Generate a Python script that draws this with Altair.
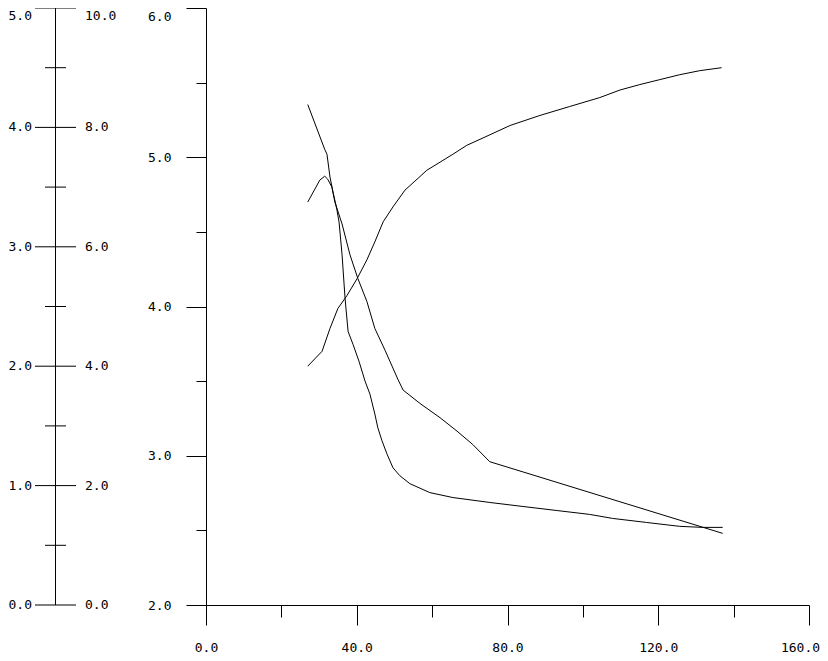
import altair as alt
import pandas as pd

# ---- data ----
S_x = [27.0, 31.5, 32.1, 32.9, 33.7, 34.7, 35.3, 36.1, 36.9, 37.7, 39.0, 40.6, 42.2, 43.5, 44.8,
       45.6, 46.7, 48.0, 49.6, 51.4, 54.1, 59.4, 65.5, 75.3, 84.1, 93.1, 101.8, 107.9, 116.9,
       125.7, 131.8, 137.1]
S_y = [5.353, 5.053, 5.02, 4.867, 4.767, 4.653, 4.567, 4.347, 4.053, 3.833, 3.747, 3.633, 3.5,
       3.413, 3.28, 3.187, 3.1, 3.013, 2.92, 2.867, 2.813, 2.753, 2.72, 2.687, 2.66, 2.633, 2.607,
       2.58, 2.553, 2.527, 2.52, 2.52]

K_x = [27.0, 28.9, 30.2, 31.5, 32.3, 33.4, 34.2, 36.1, 38.2, 40.3, 42.7, 44.8, 47.5, 50.9,
       52.3, 56.8, 62.1, 66.6, 70.8, 75.3, 137.1]
K_y = [4.7, 4.787, 4.847, 4.873, 4.853, 4.8, 4.7, 4.553, 4.347, 4.187, 4.033, 3.853, 3.707,
       3.513, 3.44, 3.35, 3.255, 3.165, 3.075, 2.96, 2.48]

R_x = [27.0, 30.8, 32.9, 35.0, 37.4, 40.1, 42.7, 44.8, 47.0, 49.6, 52.8, 56.0, 58.6, 62.1, 65.5,
       69.2, 72.7, 80.7, 88.6, 96.5, 104.5, 109.8, 115.1, 120.4, 125.7, 131.0, 136.8]
R_y = [3.6, 3.7, 3.853, 3.987, 4.073, 4.187, 4.313, 4.433, 4.567, 4.667, 4.78, 4.853, 4.913, 4.967,
       5.02, 5.08, 5.12, 5.213, 5.28, 5.34, 5.4, 5.45, 5.487, 5.52, 5.553, 5.58, 5.6]

x_ticks = [0, 20, 40, 60, 80, 100, 120, 140, 160]
y_ticks = [2.0, 2.5, 3.0, 3.5, 4.0, 4.5, 5.0, 5.5, 6.0]
left_ticks = [0, 1, 2, 3, 4, 5, 6, 7, 8, 9, 10]
left_major = [0, 2, 4, 6, 8, 10]
left_labels_5 = ["0.0", "1.0", "2.0", "3.0", "4.0", "5.0"]
left_labels_10 = ["0.0", "2.0", "4.0", "6.0", "8.0", "10.0"]

FONT = "DejaVu Sans Mono"
FS = 13
W, H = 603, 597

rows = []
for name, xs, ys in (("S", S_x, S_y), ("K", K_x, K_y), ("R", R_x, R_y)):
    for i, (a, b) in enumerate(zip(xs, ys)):
        rows.append({"series": name, "i": i, "x": a, "y": b})
curves = pd.DataFrame(rows)

xscale = alt.Scale(domain=[0, 160], nice=False, zero=False)
yscale = alt.Scale(domain=[2, 6], nice=False, zero=False)
s10 = alt.Scale(domain=[0, 10], nice=False, zero=False)

main = alt.Chart(curves).mark_line(color="black", strokeWidth=1).encode(
    x=alt.X("x:Q", scale=xscale, axis=alt.Axis(
        values=x_ticks, title=None, grid=False, orient="bottom",
        domainColor="black", tickColor="black", domainWidth=1, tickWidth=1,
        tickSize={"condition": {"test": "datum.value % 40 === 0", "value": 20}, "value": 12},
        labelExpr="datum.value % 40 === 0 ? format(datum.value, '.1f') : ''",
        labelOffset={"condition": {"test": "datum.value === 160", "value": -9}, "value": 0},
        labelFont=FONT, labelFontSize=FS, labelColor="black", labelPadding=16,
        labelFlush=False, labelOverlap=False, labelBound=False)),
    y=alt.Y("y:Q", scale=yscale, axis=alt.Axis(
        values=y_ticks, title=None, grid=False, orient="left",
        domainColor="black", tickColor="black", domainWidth=1, tickWidth=1,
        tickSize={"condition": {"test": "datum.value % 1 === 0", "value": 20}, "value": 10},
        labelExpr="datum.value % 1 === 0 ? format(datum.value, '.1f') : ''",
        labelBaseline={"condition": {"test": "datum.value === 6", "value": "top"}, "value": "middle"},
        labelOffset={"condition": {"test": "datum.value === 6", "value": 2}, "value": 0},
        labelFont=FONT, labelFontSize=FS, labelColor="black", labelPadding=15,
        labelFlush=False, labelOverlap=False, labelBound=False)),
    detail="series:N",
    order="i:Q",
)

tick_df = pd.DataFrame({"v": left_ticks, "major": [v in left_major for v in left_ticks]})
lab_df = pd.DataFrame({"v": left_major, "l5": left_labels_5, "l10": left_labels_10})
line_df = pd.DataFrame({"a": [0], "b": [10]})

left_line = alt.Chart(line_df).mark_rule(color="black", strokeWidth=1).encode(
    y=alt.Y("a:Q", scale=s10, axis=None), y2="b:Q", x=alt.value(-150.5))
major = alt.Chart(tick_df).transform_filter("datum.major").mark_rule(color="black", strokeWidth=1).encode(
    y=alt.Y("v:Q", scale=s10, axis=None), x=alt.value(-171), x2=alt.value(-130))
minor = alt.Chart(tick_df).transform_filter("!datum.major").mark_rule(color="black", strokeWidth=1).encode(
    y=alt.Y("v:Q", scale=s10, axis=None), x=alt.value(-161), x2=alt.value(-140))


def labels(field, align, xpix, top):
    base = alt.Chart(lab_df).transform_filter(
        "datum.v === 10" if top else "datum.v !== 10")
    return base.mark_text(align=align, baseline="top" if top else "middle",
                          dy=2 if top else 0,
                          font=FONT, fontSize=FS, color="black").encode(
        y=alt.Y("v:Q", scale=s10, axis=None), x=alt.value(xpix), text=f"{field}:N")


lab_r = labels("l10", "left", -121, False)
lab_r_top = labels("l10", "left", -121, True)
lab_l = labels("l5", "right", -174, False)
lab_l_top = labels("l5", "right", -174, True)

chart = alt.layer(main, left_line, major, minor, lab_r, lab_r_top, lab_l, lab_l_top).resolve_scale(
    y="independent"
).properties(
    width=W, height=H,
    autosize="none",
    padding={"left": 198, "top": 0, "right": 11, "bottom": 48},
    background="white",
).configure_view(stroke=None)

chart.save("out.html", embed_options={"renderer": "svg", "actions": False})
